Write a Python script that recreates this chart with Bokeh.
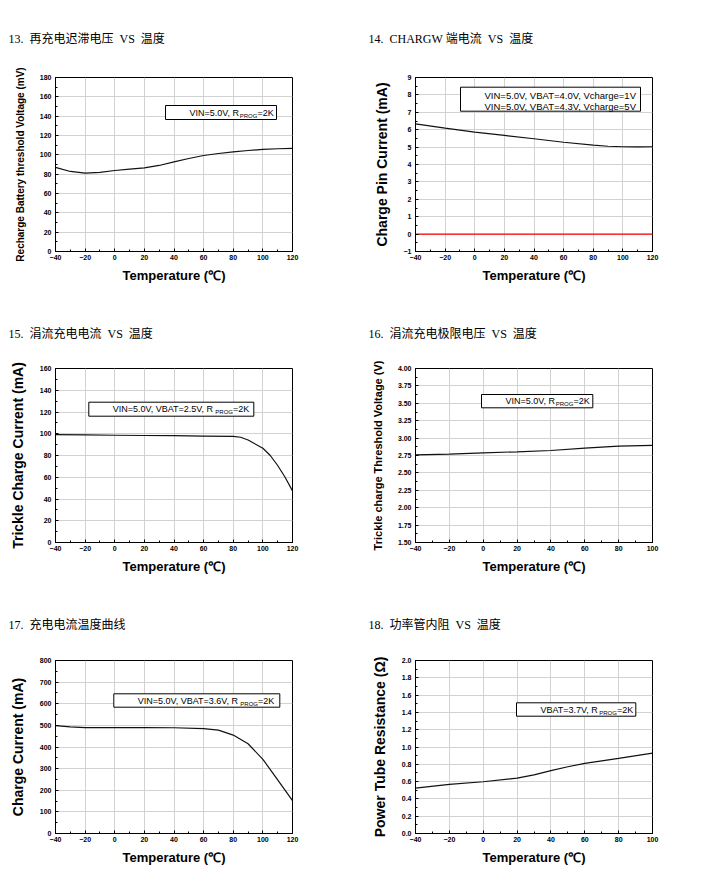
from bokeh.plotting import figure
from bokeh.models import Range1d, SingleIntervalTicker, NumeralTickFormatter, Label, BoxAnnotation, Title
from bokeh.layouts import column, row
from bokeh.embed import file_html
from bokeh.resources import INLINE

# ---------------- data ----------------
temp1 = [-40, -30, -20, -10, 0, 10, 20, 30, 40, 50, 60, 70, 80, 90, 100, 110, 120]
recharge_mv = [87.0, 82.8, 81.0, 81.8, 83.8, 85.2, 86.6, 89.0, 92.8, 96.2, 99.3, 101.4, 103.1, 104.5, 105.6, 106.3, 106.7]

temp2 = [-40, -20, 0, 20, 40, 60, 80, 90, 100, 110, 120]
pin_current_1v = [6.34, 6.09, 5.86, 5.67, 5.48, 5.28, 5.11, 5.05, 5.02, 5.01, 5.02]
pin_current_5v = [0, 0, 0, 0, 0, 0, 0, 0, 0, 0, 0]

temp3 = [-40, -20, 0, 20, 40, 60, 80, 85, 90, 100, 105, 110, 115, 120]
trickle_ma = [99.2, 98.9, 98.6, 98.4, 98.2, 97.9, 97.6, 96.8, 94.2, 86.7, 80.0, 70.8, 60.0, 47.5]

temp4 = [-40, -20, 0, 20, 40, 60, 80, 100]
trickle_v = [2.76, 2.77, 2.789, 2.803, 2.822, 2.856, 2.885, 2.895]

temp5 = [-40, -30, -20, 0, 20, 40, 60, 70, 80, 90, 100, 110, 120]
charge_ma = [499, 493, 490, 490, 490, 489, 485, 478, 455, 415, 343, 248, 152]

temp6 = [-40, -20, 0, 20, 30, 40, 50, 60, 80, 100]
resistance_ohm = [0.525, 0.567, 0.598, 0.641, 0.678, 0.726, 0.772, 0.811, 0.869, 0.93]

titles = [
    "13.\u00a0\u00a0再充电迟滞电压\u00a0\u00a0VS\u00a0\u00a0温度",
    "14.\u00a0\u00a0CHARGW\u00a0端电流\u00a0\u00a0VS\u00a0\u00a0温度",
    "15.\u00a0\u00a0涓流充电电流\u00a0\u00a0VS\u00a0\u00a0温度",
    "16.\u00a0\u00a0涓流充电极限电压\u00a0\u00a0VS\u00a0\u00a0温度",
    "17.\u00a0\u00a0充电电流温度曲线",
    "18.\u00a0\u00a0功率管内阻\u00a0\u00a0VS\u00a0\u00a0温度",
]
y_labels = [
    "Recharge Battery threshold Voltage (mV)",
    "Charge Pin Current (mA)",
    "Trickle Charge Current (mA)",
    "Trickle charge Threshold Voltage (V)",
    "Charge Current (mA)",
    "Power Tube Resistance (\u03a9)",
]
x_label = "Temperature (\u2103)"

legend1 = ["VIN=5.0V, R", "PROG", "=2K"]
legend2 = ["VIN=5.0V, VBAT=4.0V, Vcharge=1V", "VIN=5.0V, VBAT=4.3V, Vcharge=5V"]
legend3 = ["VIN=5.0V, VBAT=2.5V, R", "PROG", "=2K"]
legend4 = ["VIN=5.0V, R", "PROG", "=2K"]
legend5 = ["VIN=5.0V, VBAT=3.6V, R", "PROG", "=2K"]
legend6 = ["VBAT=3.7V, R", "PROG", "=2K"]

# ---------------- styling helpers ----------------
SANS = "Liberation Sans"
TITLE_FONT = "Liberation Serif, Noto Sans CJK SC"
FRAME_W = 237
GRID = "#d2d2d2"

# Arial / Liberation Sans advance widths (em)
W = {"V": .667, "I": .278, "N": .722, "=": .584, ".": .278, ",": .278, " ": .278,
     "R": .722, "B": .667, "A": .667, "T": .611, "c": .5, "h": .556, "a": .556,
     "r": .333, "g": .556, "e": .556, "K": .667, "P": .667, "O": .778, "G": .778}


def text_w(s, size):
    return sum(W.get(ch, .556) for ch in s) * size


def make_panel(xr, yr, xint, yint, yfmt, ylabel, ysize, rowgeo, colgeo, title, title_standoff):
    top, fh, bottom = rowgeo
    left, right = colgeo
    p = figure(title=None, frame_width=FRAME_W, frame_height=fh,
               x_range=Range1d(*xr), y_range=Range1d(*yr),
               min_border_top=top, min_border_bottom=bottom,
               min_border_left=left, min_border_right=right,
               output_backend="svg", toolbar_location=None,
               background_fill_color="white", border_fill_color="white")
    p.add_layout(Title(text=title, align="left", offset=-47, standoff=title_standoff,
                       vertical_align="top",
                       text_font=TITLE_FONT, text_font_size="12px",
                       text_font_style="normal", text_color="black"), "above")
    p.outline_line_color = "black"
    p.outline_line_width = 1
    p.outline_line_alpha = 1
    p.xaxis.ticker = SingleIntervalTicker(interval=xint, num_minor_ticks=2)
    p.yaxis.ticker = SingleIntervalTicker(interval=yint, num_minor_ticks=2)
    if yfmt:
        p.yaxis.formatter = NumeralTickFormatter(format=yfmt)
    for ax in (p.xaxis[0], p.yaxis[0]):
        ax.major_tick_in = 3
        ax.major_tick_out = 0
        ax.minor_tick_in = 2
        ax.minor_tick_out = 0
        ax.major_tick_line_color = "black"
        ax.minor_tick_line_color = "black"
        ax.axis_line_color = "black"
        ax.major_label_text_font = SANS
        ax.major_label_text_font_size = "7px"
        ax.major_label_text_font_style = "bold"
        ax.major_label_text_color = "black"
        ax.axis_label_text_font = SANS
        ax.axis_label_text_font_style = "bold"
        ax.axis_label_text_color = "black"
    p.xaxis.major_label_standoff = 3
    p.yaxis.major_label_standoff = 4
    p.xaxis.axis_label = x_label
    p.xaxis.axis_label_text_font_size = "13px"
    p.xaxis.axis_label_standoff = 5
    p.yaxis.axis_label = ylabel
    p.yaxis.axis_label_text_font_size = ysize
    p.yaxis.axis_label_standoff = 11
    p.xgrid.grid_line_color = GRID
    p.ygrid.grid_line_color = GRID
    p.xgrid.grid_line_width = 1
    p.ygrid.grid_line_width = 1
    return p


def add_legend(p, xr, yr, fh, box, rows, fsize=9):
    """box = (left, top, right, bottom) in px from frame's top-left."""
    px2x = lambda px: xr[0] + px / FRAME_W * (xr[1] - xr[0])
    py2y = lambda py: yr[1] - py / fh * (yr[1] - yr[0])
    l, t, r, b = box
    p.add_layout(BoxAnnotation(left=px2x(l), right=px2x(r), top=py2y(t), bottom=py2y(b),
                               fill_color="white", fill_alpha=1, line_color="black",
                               line_width=1, line_alpha=1, level="overlay"))
    for ry, colour, parts in rows:
        seg = p.segment(x0=[px2x(l + 3)], y0=[py2y(ry)], x1=[px2x(l + 23)], y1=[py2y(ry)],
                        line_color=colour, line_width=1.2)
        seg.level = "overlay"
        tx = px2x(l + 24)
        ty = py2y(ry)
        if isinstance(parts, str):
            parts = [parts]
        off = 0.0
        for i, s in enumerate(parts):
            sub = (i == 1)
            size = 6 if sub else fsize
            lab = Label(x=tx, y=ty, x_offset=off, y_offset=(-3 if sub else 0), text=s,
                        text_font=SANS, text_font_size=f"{size}px",
                        text_baseline="middle", text_align="left", text_color="black",
                        level="overlay")
            p.add_layout(lab)
            off += text_w(s, size)


ROW1 = (77, 174, 47)
ROW2 = (70, 174, 46)
ROW3 = (72, 173, 37)
COL_L = (55, 68)
COL_R = (55, 60)
CURVE = "#111111"

# ---- panel 13 ----
xr, yr = (-40, 120), (0, 180)
p1 = make_panel(xr, yr, 20, 20, None, y_labels[0], "10px", ROW1, COL_L, titles[0], 59)
p1.line(temp1, recharge_mv, line_color=CURVE, line_width=1.2)
add_legend(p1, xr, yr, ROW1[1], (110, 28, 221, 42), [(35, CURVE, legend1)])

# ---- panel 14 ----
xr2, yr2 = (-40, 120), (-1, 9)
p2 = make_panel(xr2, yr2, 20, 1, None, y_labels[1], "14px", ROW1, COL_R, titles[1], 59)
p2.line(temp2, pin_current_1v, line_color=CURVE, line_width=1.2)
p2.line(temp2, pin_current_5v, line_color="red", line_width=1.2)
add_legend(p2, xr2, yr2, ROW1[1], (45, 9.7, 225, 33.7),
           [(18, CURVE, legend2[0]), (28.7, "red", legend2[1])], fsize=9.5)

# ---- panel 15 ----
xr3, yr3 = (-40, 120), (0, 160)
p3 = make_panel(xr3, yr3, 20, 20, None, y_labels[2], "14px", ROW2, COL_L, titles[2], 52)
p3.line(temp3, trickle_ma, line_color=CURVE, line_width=1.2)
add_legend(p3, xr3, yr3, ROW2[1], (33.3, 33.7, 198.3, 47.7), [(40.7, CURVE, legend3)])

# ---- panel 16 ----
xr4, yr4 = (-40, 100), (1.5, 4.0)
p4 = make_panel(xr4, yr4, 20, 0.25, "0.00", y_labels[3], "11px", ROW2, COL_R, titles[3], 52)
p4.line(temp4, trickle_v, line_color=CURVE, line_width=1.2)
add_legend(p4, xr4, yr4, ROW2[1], (66, 26, 177.3, 39.3), [(32.7, CURVE, legend4)])

# ---- panel 17 ----
xr5, yr5 = (-40, 120), (0, 800)
p5 = make_panel(xr5, yr5, 20, 100, None, y_labels[4], "14px", ROW3, COL_L, titles[4], 54)
p5.line(temp5, charge_ma, line_color=CURVE, line_width=1.2)
add_legend(p5, xr5, yr5, ROW3[1], (58.3, 33.3, 224.3, 46.7), [(40, CURVE, legend5)])

# ---- panel 18 ----
xr6, yr6 = (-40, 100), (0, 2.0)
p6 = make_panel(xr6, yr6, 20, 0.2, "0.0", y_labels[5], "14px", ROW3, COL_R, titles[5], 54)
p6.line(temp6, resistance_ohm, line_color=CURVE, line_width=1.2)
add_legend(p6, xr6, yr6, ROW3[1], (101, 42.3, 220.3, 55.7), [(49, CURVE, legend6)])

layout = column(row(p1, p2), row(p3, p4), row(p5, p6))

with open("out.html", "w") as f:
    f.write(file_html(layout, INLINE))
